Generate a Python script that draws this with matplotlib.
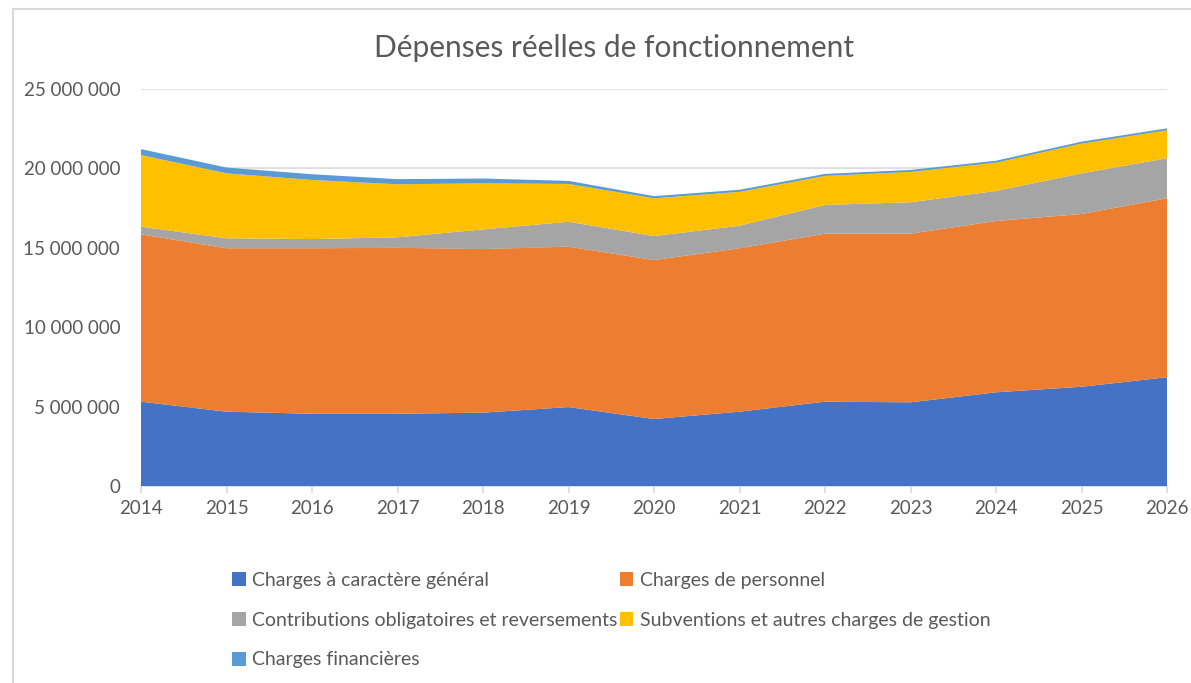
import matplotlib
matplotlib.use("Agg")
import matplotlib.pyplot as plt
from matplotlib.patches import Patch
from matplotlib.ticker import FuncFormatter, MultipleLocator
from matplotlib.lines import Line2D

years = [2014, 2015, 2016, 2017, 2018, 2019, 2020, 2021, 2022, 2023, 2024, 2025, 2026]
charges_generales = [5.31, 4.68, 4.55, 4.55, 4.62, 4.97, 4.22, 4.68, 5.31, 5.27, 5.90, 6.25, 6.85]
charges_personnel = [10.54, 10.29, 10.42, 10.45, 10.30, 10.10, 10.01, 10.29, 10.58, 10.62, 10.79, 10.88, 11.27]
contributions = [0.48, 0.63, 0.58, 0.66, 1.24, 1.57, 1.51, 1.42, 1.81, 1.98, 1.89, 2.56, 2.52]
subventions = [4.51, 4.09, 3.72, 3.34, 2.90, 2.38, 2.38, 2.14, 1.84, 1.92, 1.80, 1.89, 1.78]
charges_financieres = [0.32, 0.31, 0.31, 0.27, 0.25, 0.14, 0.08, 0.07, 0.06, 0.06, 0.05, 0.05, 0.05]

labels = ["Charges à caractère général", "Charges de personnel",
          "Contributions obligatoires et reversements",
          "Subventions et autres charges de gestion", "Charges financières"]
colors = ["#4472C4", "#ED7D31", "#A5A5A5", "#FFC000", "#5B9BD5"]
title = "Dépenses réelles de fonctionnement"

plt.rcParams['font.family'] = ['Lato', 'DejaVu Sans']
txt = "#595959"

fig = plt.figure(figsize=(11.91, 6.83), dpi=100)
ax = fig.add_axes([141/1191, 1-486/683, (1167-141)/1191, (486-89)/683])

series = [charges_generales, charges_personnel, contributions, subventions, charges_financieres]
series_abs = [[v * 1e6 for v in s] for s in series]
ax.stackplot(years, *series_abs, colors=colors, linewidth=0)
tops = [sum(vals) for vals in zip(*series_abs)]
ax.plot(years, tops, color="#5B9BD5", lw=1.2)

ax.set_xlim(2014, 2026)
ax.set_ylim(0, 25e6)
ax.yaxis.set_major_locator(MultipleLocator(5e6))
ax.yaxis.set_major_formatter(FuncFormatter(lambda v, p: f"{int(v):,}".replace(",", " ")))
ax.set_xticks(years)
ax.set_xticklabels([str(y) for y in years])
ax.grid(axis="y", color="#d9d9d9", lw=1.2)
ax.set_axisbelow(True)
for s in ["top", "right", "left"]:
    ax.spines[s].set_visible(False)
ax.spines["bottom"].set_color("#d9d9d9")
ax.spines["bottom"].set_linewidth(1.2)
ax.spines["bottom"].set_zorder(0.5)
ax.tick_params(axis="y", length=0, pad=15, labelsize=13.5, labelcolor=txt)
ax.tick_params(axis="x", length=5, width=1.2, color="#d9d9d9", pad=5, labelsize=13.5, labelcolor=txt)

fig.text(614/1191, 1-48/683, title, ha="center", va="center", fontsize=21.5, color=txt)

handles = [Patch(facecolor=c, edgecolor="none") for c in colors]
order = [0, 2, 4, 1, 3]
fig.legend([handles[i] for i in order], [labels[i] for i in order],
           ncol=2, loc="upper left", bbox_to_anchor=(232/1191, 1-572/683),
           frameon=False, fontsize=14, labelcolor=txt, handlelength=0.7, handleheight=0.7,
           handletextpad=0.35, labelspacing=1.17, columnspacing=0.1, borderpad=0, borderaxespad=0)

fig.add_artist(Line2D([13/1191, 13/1191], [0, 1-9/683], transform=fig.transFigure, color="#d9d9d9", lw=1.5))
fig.add_artist(Line2D([13/1191, 1], [1-9/683, 1-9/683], transform=fig.transFigure, color="#d9d9d9", lw=1.5))

fig.savefig("out.png", dpi=100)
